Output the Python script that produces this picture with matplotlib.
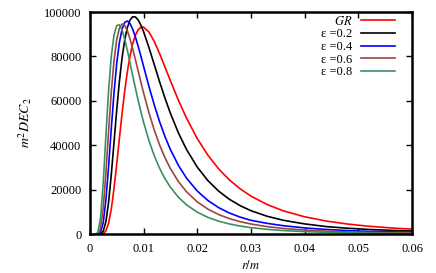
import matplotlib
matplotlib.use("Agg")
import matplotlib.pyplot as plt

# r/m grid
r = [0.001, 0.0015, 0.002, 0.0025, 0.003, 0.0035, 0.004, 0.0045, 0.005, 0.0055,
     0.006, 0.0065, 0.007, 0.0075, 0.008, 0.0085, 0.009, 0.0095, 0.010, 0.011,
     0.012, 0.013, 0.014, 0.015, 0.0165, 0.018, 0.020, 0.022, 0.024, 0.026,
     0.028, 0.030, 0.033, 0.036, 0.040, 0.044, 0.048, 0.052, 0.056, 0.060]

dec_gr = [0, 0, 10, 250, 1520, 4990, 11370, 20450, 31340, 42950,
          54250, 64510, 73290, 80390, 85800, 89610, 91990, 93130, 93230, 91050,
          86740, 81240, 75220, 69100, 60290, 52280, 43080, 35520, 29390, 24430,
          20420, 17170, 13380, 10560, 7850, 5950, 4580, 3590, 2850, 2290]
dec_e02 = [0, 0, 140, 1380, 5730, 14410, 26830, 41200, 55610, 68580,
           79300, 87450, 93080, 96440, 97880, 97760, 96410, 94140, 91200, 84100,
           76320, 68570, 61220, 54470, 45600, 38170, 30230, 24100, 19380, 15710,
           12850, 10600, 8100, 6300, 4650, 3450, 2700, 2150, 1750, 1450]
dec_e04 = [0, 30, 850, 5260, 15530, 30660, 47620, 63520, 76590, 86150,
           92240, 95320, 95960, 94740, 92180, 88690, 84610, 80210, 75660, 66630,
           58190, 50600, 43940, 38160, 30980, 25280, 19460, 15170, 11960, 9540,
           7700, 6270, 4900, 3850, 2850, 2150, 1650, 1300, 1100, 950]
dec_e06 = [0, 170, 2710, 11800, 27680, 46470, 64030, 77910, 87390, 92720,
           94650, 93990, 91500, 87790, 83330, 78480, 73490, 68530, 63710, 54760,
           46890, 40140, 34400, 29560, 23680, 19130, 14580, 11280, 8840, 7030,
           5650, 4600, 3430, 2610, 1870, 1370, 1030, 850, 700, 580]
dec_e08 = [0, 750, 7260, 23290, 44600, 64790, 80080, 89550, 93880, 94260,
           91880, 87760, 82620, 77010, 71270, 65640, 60260, 55200, 50500, 42220,
           35340, 29660, 25000, 21170, 16650, 13240, 9930, 7570, 5870, 4620,
           3680, 2970, 2200, 1660, 1180, 860, 640, 490, 380, 300]

labels = ["$GR$", "ε =0.2", "ε =0.4", "ε =0.6", "ε =0.8"]
colors = ["#ff0000", "#000000", "#0000ff", "#9c4640", "#3a8f62"]
xticks = [0, 0.01, 0.02, 0.03, 0.04, 0.05, 0.06]
xticklabels = ["0", "0.01", "0.02", "0.03", "0.04", "0.05", "0.06"]
yticks = [0, 20000, 40000, 60000, 80000, 100000]

plt.rcParams['font.family'] = ['Liberation Serif', 'DejaVu Serif']
plt.rcParams['mathtext.fontset'] = 'stix'
plt.rcParams['font.size'] = 9

fig = plt.figure(figsize=(4.36, 2.73), dpi=100)
ax = fig.add_axes([0.206, 0.142, 0.739, 0.814])

for y, lab, c in zip([dec_gr, dec_e02, dec_e04, dec_e06, dec_e08], labels, colors):
    ax.plot(r, y, color=c, lw=1.2, label=lab)

ax.set_xlim(0, 0.06)
ax.set_ylim(0, 100000)
ax.set_xticks(xticks)
ax.set_xticklabels(xticklabels)
ax.set_yticks(yticks)
ax.set_yticklabels([str(v) for v in yticks])
ax.tick_params(direction='in', top=True, right=True, length=4, width=1, pad=6)
for s in ax.spines.values():
    s.set_linewidth(1.8)

ax.set_xlabel("$r/m$", labelpad=3)
ax.set_ylabel("$m^2DEC_2$", labelpad=7, fontsize=10)

ax.legend(loc='upper right', bbox_to_anchor=(0.974, 1.027), frameon=False,
          markerfirst=False, handlelength=2.7, handletextpad=0.7,
          labelspacing=0.05, borderaxespad=0.3)

fig.savefig("out.png", dpi=100)
